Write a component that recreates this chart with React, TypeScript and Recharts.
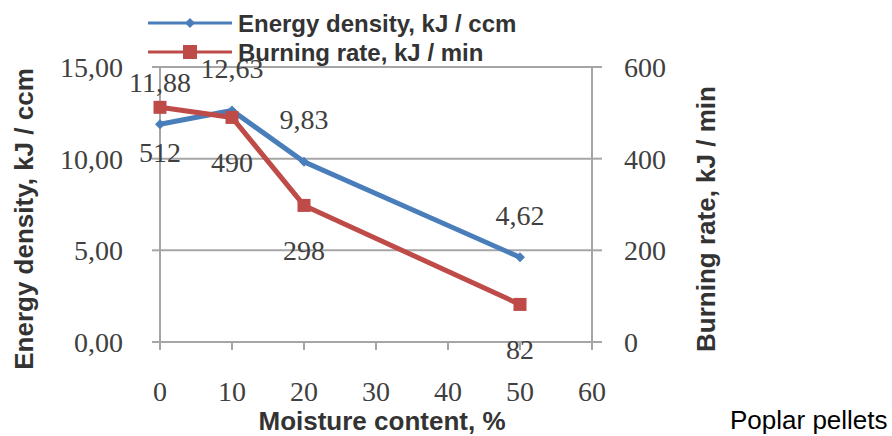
import React from 'react';
import {
  LineChart,
  Line,
  XAxis,
  YAxis,
  CartesianGrid,
  Legend,
  LabelList,
  Label,
} from 'recharts';

const moisture = [0, 10, 20, 50];
const energyDensity = [11.88, 12.63, 9.83, 4.62];
const burningRate = [512, 490, 298, 82];

const xTicks = [0, 10, 20, 30, 40, 50, 60];
const energyTicks = [0, 5, 10, 15];
const rateTicks = [0, 200, 400, 600];

const BLUE = '#4a7ebb';
const RED = '#be4b48';
const AXIS = '#a6a6a6';
const TEXT = '#404040';
const NUM_FONT = "'Liberation Serif', 'DejaVu Serif', serif";
const SANS = "'Liberation Sans', Arial, sans-serif";

const data = moisture.map((m, i) => ({
  moisture: m,
  energy: energyDensity[i],
  rate: burningRate[i],
}));

const comma = (v: number) => v.toFixed(2).replace('.', ',');

const numTick = { fontFamily: NUM_FONT, fontSize: 28, fill: TEXT };

const Diamond = (props: any) => {
  const { cx, cy, index } = props;
  if (cx == null || cy == null) return <g key={`d-${index}`} />;
  const r = 5;
  return (
    <path
      key={`d-${index}`}
      d={`M${cx},${cy - r}L${cx + r},${cy}L${cx},${cy + r}L${cx - r},${cy}Z`}
      fill={BLUE}
    />
  );
};

const Square = (props: any) => {
  const { cx, cy, index } = props;
  if (cx == null || cy == null) return <g key={`s-${index}`} />;
  const s = 13;
  return <rect key={`s-${index}`} x={cx - s / 2} y={cy - s / 2} width={s} height={s} fill={RED} />;
};

const makeLabel = (dy: number, fmt: (v: number) => string) => (props: any) => {
  const { x, y, value } = props;
  return (
    <text
      x={x}
      y={y + dy}
      textAnchor="middle"
      dominantBaseline="central"
      fontFamily={NUM_FONT}
      fontSize={28}
      fill={TEXT}
    >
      {fmt(value)}
    </text>
  );
};

const LegendBox = () => (
  <svg width={420} height={62}>
    <line x1={0} y1={14} x2={84} y2={14} stroke={BLUE} strokeWidth={3} />
    <path d="M42,9L47,14L42,19L37,14Z" fill={BLUE} />
    <text x={90} y={14} dominantBaseline="central" fontFamily={SANS} fontWeight="bold" fontSize={24} fill="#333">
      Energy density, kJ / ccm
    </text>
    <line x1={0} y1={43} x2={84} y2={43} stroke={RED} strokeWidth={3} />
    <rect x={35} y={36} width={14} height={14} fill={RED} />
    <text x={90} y={43} dominantBaseline="central" fontFamily={SANS} fontWeight="bold" fontSize={24} fill="#333">
      Burning rate, kJ / min
    </text>
  </svg>
);

const axisTitle = (x: number, y: number, text: string) => () => (
  <text
    x={x}
    y={y}
    transform={`rotate(-90, ${x}, ${y})`}
    textAnchor="middle"
    dominantBaseline="central"
    fontFamily={SANS}
    fontWeight="bold"
    fontSize={26}
    fill="#333"
  >
    {text}
  </text>
);

const xTitle = () => (
  <text
    x={382}
    y={421}
    textAnchor="middle"
    dominantBaseline="central"
    fontFamily={SANS}
    fontWeight="bold"
    fontSize={26}
    fill="#333"
  >
    Moisture content, %
  </text>
);

export default function App() {
  return (
    <div style={{ position: 'absolute', left: 0, top: 0, width: 892, height: 436, background: '#fff' }}>
      <LineChart width={892} height={436} data={data} margin={{ top: 67, right: 180, bottom: 0, left: 0 }}>
        <CartesianGrid yAxisId="left" vertical={false} stroke={AXIS} strokeWidth={2} />
        <XAxis
          dataKey="moisture"
          type="number"
          domain={[0, 60]}
          ticks={xTicks}
          height={94}
          tick={numTick}
          tickSize={8}
          tickMargin={31}
          stroke={AXIS}
          strokeWidth={2}
        >
          <Label content={xTitle} />
        </XAxis>
        <YAxis
          yAxisId="left"
          domain={[0, 15]}
          ticks={energyTicks}
          width={160}
          tick={numTick}
          tickFormatter={comma}
          tickSize={8}
          tickMargin={29}
          stroke={AXIS}
          strokeWidth={2}
        >
          <Label content={axisTitle(24, 219, 'Energy density, kJ / ccm')} />
        </YAxis>
        <YAxis
          yAxisId="right"
          orientation="right"
          domain={[0, 600]}
          ticks={rateTicks}
          width={120}
          tick={numTick}
          tickSize={10}
          tickMargin={22}
          stroke={AXIS}
          strokeWidth={2}
        >
          <Label content={axisTitle(706, 219, 'Burning rate, kJ / min')} />
        </YAxis>
        <Legend
          layout="vertical"
          align="center"
          verticalAlign="middle"
          wrapperStyle={{ top: 9, left: 148, width: 420 }}
          content={LegendBox}
        />
        <Line
          yAxisId="left"
          dataKey="energy"
          name="Energy density, kJ / ccm"
          stroke={BLUE}
          strokeWidth={5}
          dot={Diamond}
          activeDot={false}
          isAnimationActive={false}
        >
          <LabelList dataKey="energy" content={makeLabel(-42, comma)} />
        </Line>
        <Line
          yAxisId="right"
          dataKey="rate"
          name="Burning rate, kJ / min"
          stroke={RED}
          strokeWidth={5}
          dot={Square}
          activeDot={false}
          isAnimationActive={false}
        >
          <LabelList dataKey="rate" content={makeLabel(45, (v) => String(v))} />
        </Line>
      </LineChart>
      <div
        style={{
          position: 'absolute',
          left: 730,
          top: 407,
          fontFamily: SANS,
          fontSize: 26,
          lineHeight: '26px',
          color: '#000',
          whiteSpace: 'nowrap',
        }}
      >
        Poplar pellets
      </div>
    </div>
  );
}
